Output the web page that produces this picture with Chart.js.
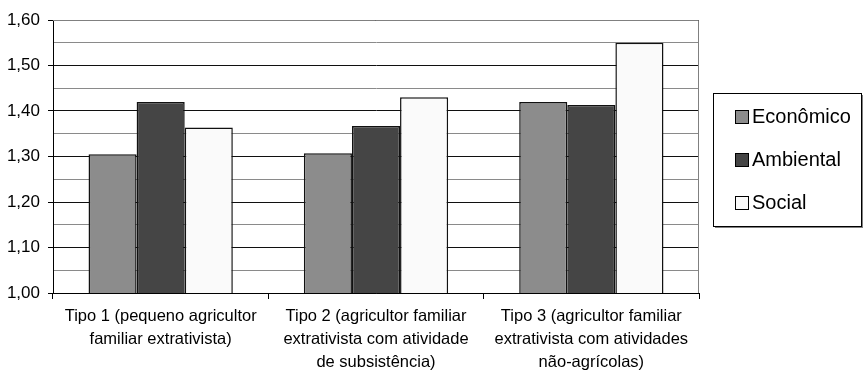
<!DOCTYPE html>
<html>
<head>
<meta charset="utf-8">
<script src="https://cdn.jsdelivr.net/npm/chart.js@4/dist/chart.umd.min.js"></script>
<style>
  html, body { margin: 0; padding: 0; background: #fff; }
  #wrap { width: 863px; height: 374px; }
</style>
</head>
<body>
<div id="wrap"><canvas id="chart" width="863" height="374"></canvas></div>
<script>
const categories = [
  ['Tipo 1 (pequeno agricultor', 'familiar extrativista)'],
  ['Tipo 2 (agricultor familiar', 'extrativista com atividade', 'de subsistência)'],
  ['Tipo 3 (agricultor familiar', 'extrativista com atividades', 'não-agrícolas)'],
];
const seriesNames = ['Econômico', 'Ambiental', 'Social'];
const economico = [1.305, 1.307, 1.42];
const ambiental = [1.42, 1.367, 1.413];
const social = [1.364, 1.43, 1.55];
const colors = ['#8c8c8c', '#454545', '#fafafa'];

const isMajor = (v) => Math.round(v * 100) % 10 === 0;

// legend box + plot frame (top/right)
const framePlugin = {
  id: 'frame',
  afterDraw(chart) {
    const { ctx, chartArea: a } = chart;
    ctx.save();
    ctx.strokeStyle = '#808080';
    ctx.lineWidth = 1;
    ctx.beginPath();
    ctx.moveTo(a.left, a.top + 0.5);
    ctx.lineTo(a.right - 0.5, a.top + 0.5);
    ctx.lineTo(a.right - 0.5, a.bottom);
    ctx.stroke();

    // legend
    const lx = 713, ly = 93, lw = 148, lh = 133;
    ctx.fillStyle = '#808080';
    ctx.fillRect(lx + 2, ly + lh, lw, 2);
    ctx.fillRect(lx + lw, ly + 2, 2, lh);
    ctx.fillStyle = '#fff';
    ctx.fillRect(lx, ly, lw, lh);
    ctx.strokeStyle = '#000';
    ctx.strokeRect(lx + 0.5, ly + 0.5, lw, lh);
    ctx.font = '20px "Liberation Sans", Arial, sans-serif';
    ctx.textBaseline = 'middle';
    const rows = [116, 159, 202];
    chart.data.datasets.forEach((ds, i) => {
      ctx.fillStyle = ds.backgroundColor;
      ctx.fillRect(735, rows[i] - 6, 13, 13);
      ctx.strokeStyle = '#000';
      ctx.strokeRect(735.5, rows[i] - 5.5, 13, 13);
      ctx.fillStyle = '#000';
      ctx.fillText(ds.label, 752, rows[i] + 1);
    });
    ctx.restore();
  },
};

new Chart(document.getElementById('chart'), {
  type: 'bar',
  data: {
    labels: categories,
    datasets: [economico, ambiental, social].map((d, i) => ({
      label: seriesNames[i],
      data: d,
      backgroundColor: colors[i],
      borderColor: '#111',
      borderWidth: 1.5,
      borderSkipped: false,
      categoryPercentage: 0.67,
      barPercentage: 1,
    })),
  },
  options: {
    responsive: false,
    animation: false,
    events: [],
    layout: { padding: { left: 0, right: 164, top: 20, bottom: 0 } },
    plugins: { legend: { display: false }, tooltip: { enabled: false } },
    scales: {
      x: {
        afterFit: (s) => { s.height = 81; },
        border: { color: '#000', width: 1 },
        grid: { drawOnChartArea: false, offset: true, tickLength: 6, color: '#000' },
        ticks: {
          color: '#000',
          padding: 6,
          maxRotation: 0,
          autoSkip: false,
          font: { family: '"Liberation Sans", Arial, sans-serif', size: 16.5, lineHeight: 1.4 },
        },
      },
      y: {
        min: 1,
        max: 1.6,
        afterFit: (s) => { s.width = 53; },
        border: { color: '#000', width: 1 },
        grid: {
          color: (c) => (c.tick && isMajor(c.tick.value) ? '#101010' : '#8a8a8a'),
          tickColor: (c) => (c.tick && isMajor(c.tick.value) ? '#000' : 'rgba(0,0,0,0)'),
          tickLength: 5,
        },
        ticks: {
          stepSize: 0.05,
          autoSkip: false,
          color: '#000',
          padding: 8,
          font: { family: '"Liberation Sans", Arial, sans-serif', size: 17 },
          callback: (v) => (isMajor(v) ? v.toFixed(2).replace('.', ',') : ''),
        },
      },
    },
  },
  plugins: [framePlugin],
});
</script>
</body>
</html>
